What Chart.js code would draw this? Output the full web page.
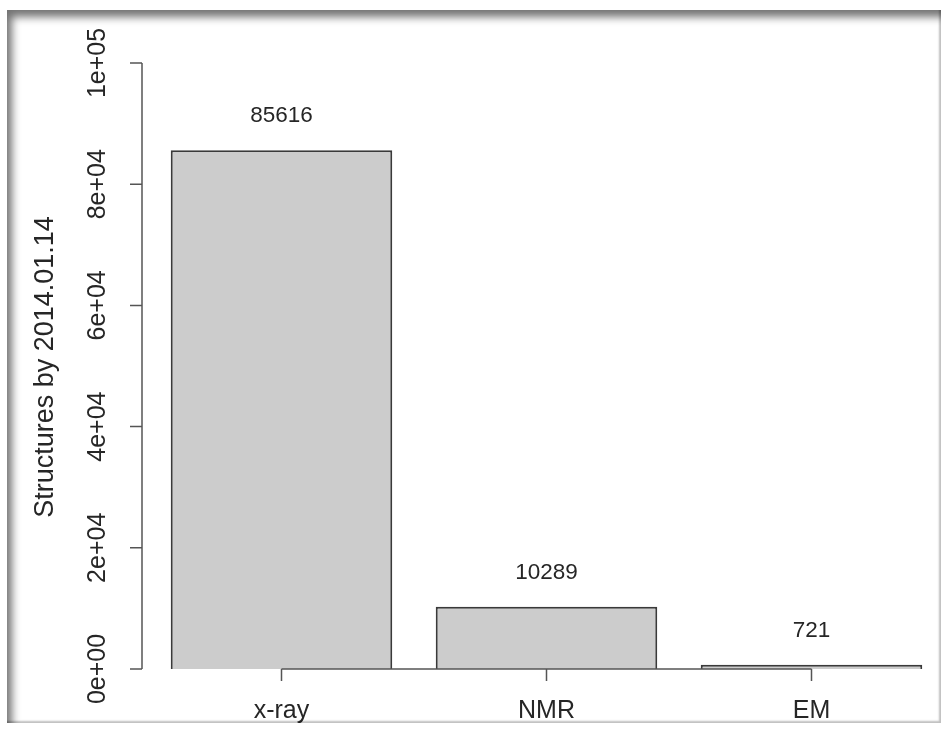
<!DOCTYPE html>
<html>
<head>
<meta charset="utf-8">
<script src="https://cdn.jsdelivr.net/npm/chart.js@4"></script>
<style>
  body { margin: 0; background: #fff; }
  #wrap { position: relative; width: 944px; height: 729px; }
  #frame {
    position: absolute; left: 7px; top: 10px; width: 934px; height: 713px;
    pointer-events: none;
    box-shadow: inset 9px 11px 8px -4px rgba(0,0,0,0.55),
                inset -2px -2px 2px rgba(0,0,0,0.25);
  }
</style>
</head>
<body>
<div id="wrap">
  <canvas id="c" width="944" height="729"></canvas>
  <div id="frame"></div>
</div>
<script>
const categories = ['x-ray', 'NMR', 'EM'];
const structures = [85616, 10289, 721];
const yTicks = [0, 20000, 40000, 60000, 80000, 100000];
const yTickLabels = ['0e+00', '2e+04', '4e+04', '6e+04', '8e+04', '1e+05'];
const yTitle = 'Structures by 2014.01.14';

const FONT = '"Liberation Sans", Arial, Helvetica, sans-serif';
const INK = '#262626';
const AXIS = '#555';

// R style axes + value labels, drawn from the chart's own scales
const rAxes = {
  id: 'rAxes',
  afterDraw(chart) {
    const ctx = chart.ctx;
    const xs = chart.scales.x, ys = chart.scales.y;
    const y0 = ys.getPixelForValue(0);
    const axX = chart.chartArea.left - 7;
    ctx.save();
    ctx.strokeStyle = AXIS;
    ctx.lineWidth = 1.5;
    ctx.fillStyle = INK;

    // y axis
    ctx.beginPath();
    ctx.moveTo(axX, ys.getPixelForValue(yTicks[0]));
    ctx.lineTo(axX, ys.getPixelForValue(yTicks[yTicks.length - 1]));
    yTicks.forEach(v => {
      const py = ys.getPixelForValue(v);
      ctx.moveTo(axX, py);
      ctx.lineTo(axX - 12, py);
    });
    ctx.stroke();
    ctx.font = '25px ' + FONT;
    ctx.textAlign = 'center';
    ctx.textBaseline = 'middle';
    yTicks.forEach((v, i) => {
      const py = ys.getPixelForValue(v);
      ctx.save();
      ctx.translate(axX - 44, py);
      ctx.rotate(-Math.PI / 2);
      ctx.fillText(yTickLabels[i], 0, 0);
      ctx.restore();
    });

    // y title
    ctx.save();
    ctx.font = '27px ' + FONT;
    ctx.translate(46, (ys.getPixelForValue(yTicks[0]) + ys.getPixelForValue(yTicks[yTicks.length - 1])) / 2 + 1);
    ctx.rotate(-Math.PI / 2);
    ctx.fillText(yTitle, 0, 0);
    ctx.restore();

    // x axis
    ctx.beginPath();
    ctx.moveTo(xs.getPixelForValue(0), y0);
    ctx.lineTo(xs.getPixelForValue(categories.length - 1), y0);
    categories.forEach((c, i) => {
      const px = xs.getPixelForValue(i);
      ctx.moveTo(px, y0);
      ctx.lineTo(px, y0 + 12);
    });
    ctx.stroke();
    ctx.font = '25px ' + FONT;
    categories.forEach((c, i) => {
      ctx.fillText(c, xs.getPixelForValue(i), y0 + 42);
    });

    // value labels above bars
    ctx.font = '22.5px ' + FONT;
    structures.forEach((v, i) => {
      ctx.fillText(String(v), xs.getPixelForValue(i), ys.getPixelForValue(v) - 34);
    });
    ctx.restore();
  }
};

new Chart(document.getElementById('c'), {
  type: 'bar',
  data: {
    labels: categories,
    datasets: [{
      data: structures,
      backgroundColor: '#cccccc',
      borderColor: '#3a3a3a',
      borderWidth: 2,
      barPercentage: 0.836,
      categoryPercentage: 1.0,
    }]
  },
  options: {
    responsive: false,
    animation: false,
    layout: { padding: { left: 149, right: 0, top: 63, bottom: 60 } },
    scales: {
      x: { display: false },
      y: { display: false, min: 0, max: 100000 },
    },
    plugins: {
      legend: { display: false },
      tooltip: { enabled: false },
    },
  },
  plugins: [rAxes],
});
</script>
</body>
</html>
